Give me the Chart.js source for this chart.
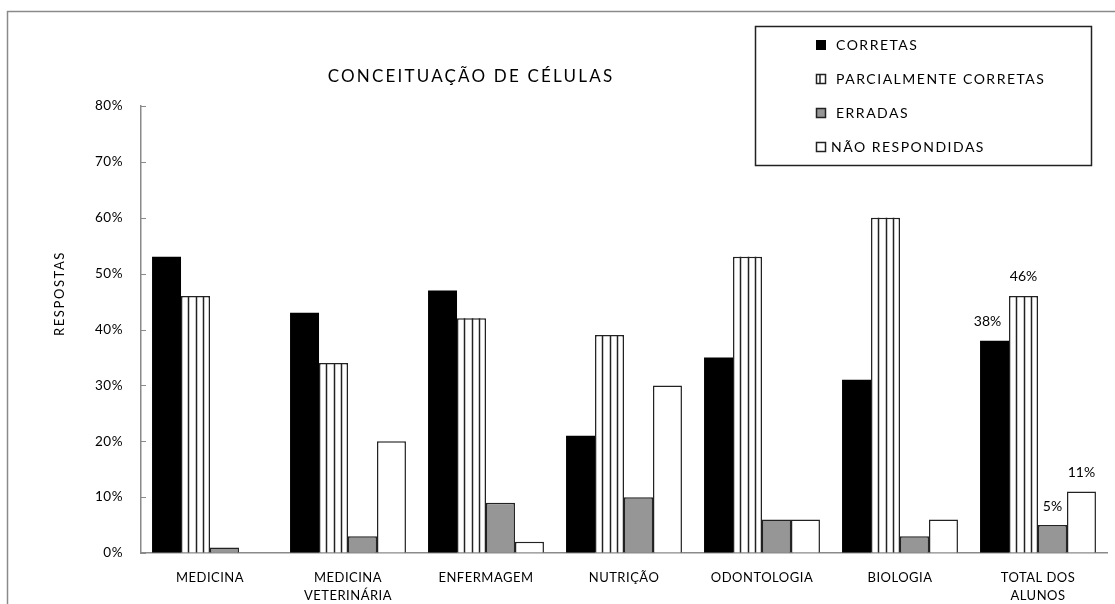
<!DOCTYPE html>
<html lang="pt">
<head>
<meta charset="utf-8">
<title>Conceituação de células</title>
<script src="https://cdn.jsdelivr.net/npm/chart.js@4/dist/chart.umd.min.js"></script>
<style>
  html, body { margin: 0; padding: 0; background: #fff; }
  #wrap { width: 1115px; height: 604px; position: relative; }
</style>
</head>
<body>
<div id="wrap"><canvas id="c" width="1115" height="604"></canvas></div>
<script>
// Cursos avaliados (rótulos de várias linhas no eixo X)
const cursos = [
  ['MEDICINA'],
  ['MEDICINA', 'VETERINÁRIA'],
  ['ENFERMAGEM'],
  ['NUTRIÇÃO'],
  ['ODONTOLOGIA'],
  ['BIOLOGIA'],
  ['TOTAL DOS', 'ALUNOS']
];

// Percentual de respostas por tipo
const corretas         = [53, 43, 47, 21, 35, 31, 38];
const parcialmente     = [46, 34, 42, 39, 53, 60, 46];
const erradas          = [1, 3, 9, 10, 6, 3, 5];
const naoRespondidas   = [0, 20, 2, 30, 6, 6, 11];

const nomesSeries = ['CORRETAS', 'PARCIALMENTE CORRETAS', 'ERRADAS', 'NÃO RESPONDIDAS'];
const yTicks = [0, 10, 20, 30, 40, 50, 60, 70, 80];

const tituloGrafico = 'CONCEITUAÇÃO DE CÉLULAS';
const tituloEixoY = 'RESPOSTAS';

const FONT = 'Lato, "Open Sans", sans-serif';
const LINE = '#222222';
const AXIS = '#8a8a8a';

// Listras verticais nas barras "parcialmente corretas", legenda em caixa,
// títulos espaçados, marcas internas do eixo Y e rótulos da coluna total.
const decoracoes = {
  id: 'decoracoes',
  beforeDraw(chart) {
    const ctx = chart.ctx;
    ctx.save();
    ctx.fillStyle = '#fff';
    ctx.fillRect(0, 0, chart.width, chart.height);
    // moldura externa
    ctx.strokeStyle = AXIS;
    ctx.lineWidth = 1.5;
    ctx.beginPath();
    ctx.moveTo(7.5, chart.height);
    ctx.lineTo(7.5, 11.5);
    ctx.lineTo(chart.width, 11.5);
    ctx.stroke();
    ctx.restore();
    chart.ctx.letterSpacing = '0.5px';
  },
  afterDatasetsDraw(chart) {
    const ctx = chart.ctx;
    ctx.save();
    // listras
    const meta = chart.getDatasetMeta(1);
    ctx.strokeStyle = LINE;
    ctx.lineWidth = 1.5;
    meta.data.forEach(bar => {
      const p = bar.getProps(['x', 'y', 'base', 'width'], true);
      const left = p.x - p.width / 2;
      for (let k = 1; k <= 3; k++) {
        const lx = Math.round(left + p.width * k / 4) + 0.5;
        ctx.beginPath();
        ctx.moveTo(lx, p.y);
        ctx.lineTo(lx, p.base);
        ctx.stroke();
      }
    });
    // rótulos de valor na última categoria
    ctx.letterSpacing = '0px';
    ctx.fillStyle = '#000';
    ctx.font = '14px ' + FONT;
    ctx.textAlign = 'center';
    ctx.textBaseline = 'middle';
    const last = cursos.length - 1;
    chart.data.datasets.forEach((ds, i) => {
      const bar = chart.getDatasetMeta(i).data[last];
      const p = bar.getProps(['x', 'y'], true);
      ctx.fillText(ds.data[last] + '%', p.x - (i === 0 ? 7 : 0), p.y - 19);
    });
    ctx.restore();
  },
  afterDraw(chart) {
    const ctx = chart.ctx;
    const ys = chart.scales.y;
    ctx.save();
    // marcas internas do eixo Y
    ctx.strokeStyle = AXIS;
    ctx.lineWidth = 1;
    ys.ticks.forEach(t => {
      const py = Math.round(ys.getPixelForValue(t.value)) + 0.5;
      ctx.beginPath();
      ctx.moveTo(ys.right, py);
      ctx.lineTo(ys.right + 5, py);
      ctx.stroke();
    });

    // título do gráfico
    ctx.fillStyle = '#000';
    ctx.textBaseline = 'middle';
    ctx.textAlign = 'center';
    ctx.letterSpacing = '2.2px';
    ctx.font = '17px ' + FONT;
    ctx.fillText(tituloGrafico, 471, 77);

    // título do eixo Y
    ctx.save();
    ctx.translate(60, (ys.top + ys.bottom) / 2 - 36);
    ctx.rotate(-Math.PI / 2);
    ctx.letterSpacing = '1.6px';
    ctx.font = '13px ' + FONT;
    ctx.fillText(tituloEixoY, 0, 0);
    ctx.restore();

    // legenda em caixa
    const bx = 755.5, by = 26.5, bw = 336, bh = 139;
    ctx.strokeStyle = LINE;
    ctx.lineWidth = 1.5;
    ctx.strokeRect(bx, by, bw, bh);
    ctx.letterSpacing = '1.5px';
    ctx.font = '14px ' + FONT;
    ctx.textAlign = 'left';
    const rows = [44, 78.5, 112, 146];
    chart.data.datasets.forEach((ds, i) => {
      const cy = rows[i];
      const mx = 816.5, my = Math.round(cy - 4.5) + 0.5, ms = 9;
      ctx.lineWidth = 1.5;
      ctx.strokeStyle = LINE;
      if (i === 0) {
        ctx.fillStyle = '#000';
        ctx.fillRect(mx - 0.5, my - 0.5, ms + 1, ms + 1);
      } else {
        ctx.fillStyle = ds.backgroundColor;
        ctx.fillRect(mx, my, ms, ms);
        ctx.strokeRect(mx, my, ms, ms);
        if (i === 1) {
          ctx.beginPath();
          ctx.moveTo(mx + 3.5, my);
          ctx.lineTo(mx + 3.5, my + ms);
          ctx.stroke();
        }
      }
      ctx.fillStyle = '#000';
      ctx.fillText(ds.label, i === 3 ? 831 : 836, cy + 1);
    });
    ctx.restore();
  }
};

new Chart(document.getElementById('c'), {
  type: 'bar',
  data: {
    labels: cursos,
    datasets: [
      { label: nomesSeries[0], data: corretas, backgroundColor: '#000000', borderWidth: 0 },
      { label: nomesSeries[1], data: parcialmente, backgroundColor: '#ffffff', borderColor: LINE, borderWidth: 1.5 },
      { label: nomesSeries[2], data: erradas, backgroundColor: '#969696', borderColor: LINE, borderWidth: 1.5 },
      { label: nomesSeries[3], data: naoRespondidas, backgroundColor: '#ffffff', borderColor: LINE, borderWidth: 1.5 }
    ]
  },
  options: {
    responsive: false,
    animation: false,
    devicePixelRatio: 1,
    layout: { padding: { top: 106, right: 8, left: 0, bottom: 0 } },
    datasets: { bar: { categoryPercentage: 0.84, barPercentage: 1 } },
    plugins: {
      legend: { display: false },
      title: { display: false },
      tooltip: { enabled: false }
    },
    scales: {
      x: {
        grid: { display: false },
        border: { display: true, color: AXIS, width: 1.5 },
        ticks: {
          color: '#000',
          font: { family: FONT, size: 13, lineHeight: 1.45 },
          padding: 7,
          maxRotation: 0,
          autoSkip: false
        },
        afterFit(scale) { scale.height = 51; }
      },
      y: {
        min: 0,
        max: 80,
        grid: { display: true, drawOnChartArea: false, drawTicks: false, color: 'rgba(0,0,0,0)' },
        border: { display: true, color: AXIS, width: 1.5 },
        afterBuildTicks(scale) { scale.ticks = yTicks.map(v => ({ value: v })); },
        ticks: {
          color: '#000',
          font: { family: FONT, size: 13.5 },
          padding: 18,
          callback: v => v + '%'
        },
        afterFit(scale) { scale.width = 141; }
      }
    }
  },
  plugins: [decoracoes]
});
</script>
</body>
</html>
